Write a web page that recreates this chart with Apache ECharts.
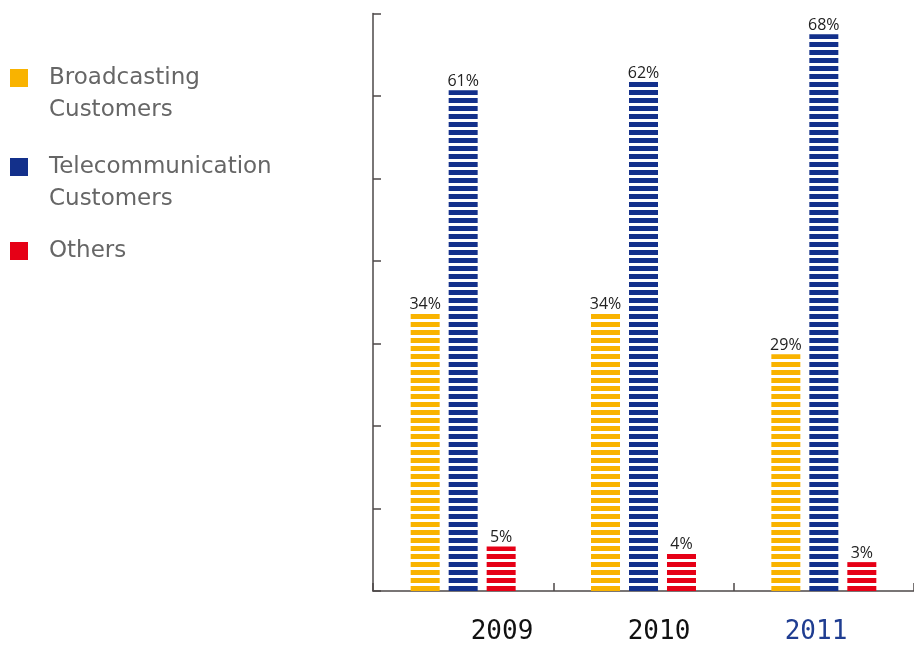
<!DOCTYPE html>
<html>
<head>
<meta charset="utf-8">
<script src="https://cdn.jsdelivr.net/npm/echarts@6/dist/echarts.min.js"></script>
<style>
  html, body { margin: 0; padding: 0; background: #fff; }
  #chart { width: 914px; height: 646px; }
</style>
</head>
<body>
<div id="chart"></div>
<script>
// data
const years = ['2009', '2010', '2011'];
const seriesNames = ['Broadcasting\nCustomers', 'Telecommunication\nCustomers', 'Others'];
// bar heights as drawn (percent)
const broadcasting = [33.6, 33.6, 28.7];
const telecom = [60.7, 61.7, 67.5];
const others = [5.4, 4.5, 3.5];
// printed labels
const broadcastingLabels = ['34%', '34%', '29%'];
const telecomLabels = ['61%', '62%', '68%'];
const othersLabels = ['5%', '4%', '3%'];

const colors = ['#f9b300', '#13308b', '#e60016'];

// horizontal stripes: 5px colour, 3px white
function stripes(color) {
  const c = document.createElement('canvas');
  c.width = 8;
  c.height = 8;
  const ctx = c.getContext('2d');
  ctx.fillStyle = '#fff';
  ctx.fillRect(0, 0, 8, 8);
  ctx.fillStyle = color;
  ctx.fillRect(0, 2, 8, 5);
  return { image: c, repeat: 'repeat' };
}

function makeLegend(i, top, twoLines) {
  return {
    orient: 'vertical',
    left: 10,
    top: top,
    padding: 0,
    itemWidth: 18,
    itemHeight: 18,
    icon: 'rect',
    selectedMode: false,
    // empty first line so the square sits next to the first text line
    formatter: (name) => (twoLines ? '\n' + name : name),
    textStyle: {
      color: '#666',
      fontFamily: 'DejaVu Sans',
      fontSize: 23,
      lineHeight: 32,
      padding: [0, 0, 0, 16]
    },
    data: [{ name: seriesNames[i], itemStyle: { color: colors[i] } }]
  };
}

function barSeries(i, values, labels) {
  return {
    name: seriesNames[i],
    type: 'bar',
    xAxisIndex: 0,
    yAxisIndex: 0,
    barWidth: 29,
    barGap: '31%',
    data: values,
    itemStyle: { color: stripes(colors[i]) },
    label: {
      show: true,
      position: 'top',
      distance: 1,
      color: '#222',
      fontFamily: 'Open Sans',
      fontSize: 16,
      formatter: (p) => labels[p.dataIndex]
    }
  };
}

const myChart = echarts.init(document.getElementById('chart'));
const option = {
  animation: false,
  legend: [
    makeLegend(0, 30, true),
    makeLegend(1, 119, true),
    makeLegend(2, 235, false)
  ],
  grid: [
    { left: 373, top: 13.5, width: 545, height: 577.5 },
    // only used to place the year labels
    { left: 423.5, top: 13.5, width: 471, height: 577.5 }
  ],
  xAxis: [
    {
      type: 'category',
      gridIndex: 0,
      data: years,
      axisLine: { lineStyle: { color: '#4d4848', width: 1.5 } },
      axisTick: { show: true, inside: true, length: 8, lineStyle: { color: '#4d4848', width: 1.5 } },
      axisLabel: { show: false }
    },
    {
      type: 'category',
      gridIndex: 1,
      data: [
        { value: '2009', textStyle: { color: '#111' } },
        { value: '2010', textStyle: { color: '#111' } },
        { value: '2011', textStyle: { color: '#1f3d91' } }
      ],
      axisLine: { show: false },
      axisTick: { show: false },
      axisLabel: {
        margin: 28,
        fontFamily: 'DejaVu Sans Mono',
        fontSize: 26
      }
    }
  ],
  yAxis: [
    {
      type: 'value',
      gridIndex: 0,
      min: 0,
      max: 70,
      interval: 10,
      axisLine: { show: true, lineStyle: { color: '#4d4848', width: 1.5 } },
      axisTick: { show: true, inside: true, length: 8, lineStyle: { color: '#4d4848', width: 1.5 } },
      axisLabel: { show: false },
      splitLine: { show: false }
    },
    { type: 'value', gridIndex: 1, show: false }
  ],
  series: [
    barSeries(0, broadcasting, broadcastingLabels),
    barSeries(1, telecom, telecomLabels),
    barSeries(2, others, othersLabels)
  ]
};
myChart.setOption(option);
</script>
</body>
</html>
